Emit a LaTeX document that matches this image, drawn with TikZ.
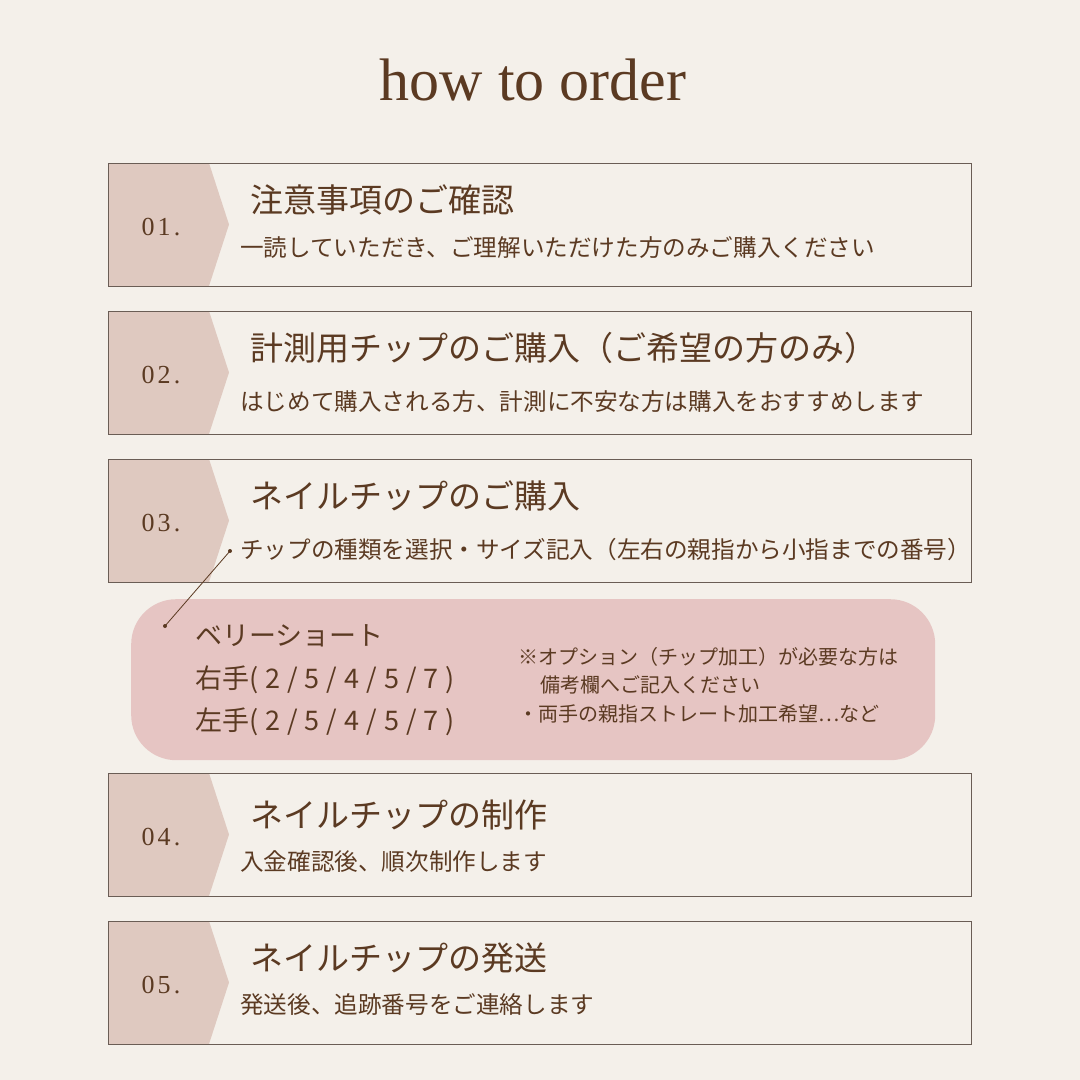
\documentclass[tikz,border=0pt]{standalone}
\usepackage{fontspec}
\setmainfont{Liberation Serif}
\newfontfamily\jp{Noto Sans CJK JP}
\newfontfamily\jpwide[LetterSpace=26]{Noto Sans CJK JP}
\newfontfamily\numfont[LetterSpace=12]{Liberation Serif}

\definecolor{bgcol}{HTML}{F4F0EA}
\definecolor{tabcol}{HTML}{DFC9C0}
\definecolor{notecol}{HTML}{E6C5C3}
\definecolor{inkcol}{HTML}{5B3A22}
\definecolor{framecol}{HTML}{6A5D55}

\begin{document}
\begin{tikzpicture}[x=1pt,y=-1pt,
    stepbox/.style={draw=framecol, line width=1pt, minimum width=863pt,
      minimum height=123pt, inner sep=0pt, anchor=north west},
    notebox/.style={fill=notecol, rounded corners=45pt, minimum width=804pt,
      minimum height=161pt, inner sep=0pt, anchor=north west},
    titletext/.style={text=inkcol, font=\fontsize{60}{60}\selectfont},
    numtext/.style={text=inkcol, inner sep=0pt, font=\numfont\fontsize{26}{26}\selectfont},
    headtext/.style={text=inkcol, inner sep=0pt, anchor=west, font=\jp\fontsize{33}{33}\selectfont},
    subtext/.style={text=inkcol, inner sep=0pt, anchor=west, font=\jp\fontsize{23.6}{23.6}\selectfont},
    sizetext/.style={text=inkcol, inner sep=0pt, anchor=west, font=\jp\fontsize{27}{27}\selectfont},
    memotext/.style={text=inkcol, inner sep=0pt, anchor=west, font=\jp\fontsize{20}{20}\selectfont},
    linkline/.style={draw=inkcol, line width=0.8pt}]

  % page
  \fill[bgcol] (0,0) rectangle (1080,1080);
  \useasboundingbox (0,0) rectangle (1080,1080);

  \node[titletext] (title) at (533,80) {how to order};

  % steps
  \foreach \idx/\y/\hy/\sy/\htxt/\stxt in {
      01/163/37/85/注意事項のご確認/一読していただき、ご理解いただけた方のみご購入ください,
      02/311/37/91/計測用チップのご購入（ご希望の方のみ）/はじめて購入される方、計測に不安な方は購入をおすすめします,
      03/459/37/91/ネイルチップのご購入/チップの種類を選択・サイズ記入（左右の親指から小指までの番号）,
      04/773/42/89/ネイルチップの制作/入金確認後、順次制作します,
      05/921/37/84/ネイルチップの発送/発送後、追跡番号をご連絡します}{
    \fill[tabcol] (108,\y) -- ++(101,0) -- ++(20,61.5) -- ++(-20,61.5) -- ++(-101,0) -- cycle;
    \node[stepbox] (box\idx) at (108,\y) {};
    \node[numtext] (num\idx) at (161,\y+64.5) {\idx.};
    \node[headtext] (head\idx) at (250,\y+\hy) {\htxt};
    \node[subtext] (sub\idx) at (240,\y+\sy) {\stxt};
  }

  % size example
  \node[notebox] (note) at (131,599) {};
  \node[sizetext] (size) at (195,636) {ベリーショート};
  \node[sizetext] (right) at (195,680) {右手{\jpwide(2/5/4/5/7)}};
  \node[sizetext] (left) at (195,722) {左手{\jpwide(2/5/4/5/7)}};
  \node[memotext] (memo1) at (518,657) {※オプション（チップ加工）が必要な方は};
  \node[memotext] (memo2) at (540,685) {備考欄へご記入ください};
  \node[memotext] (memo3) at (518,714) {・両手の親指ストレート加工希望…など};

  \coordinate (tipA) at (230,551);
  \coordinate (tipB) at (165,626);
  \draw[linkline] (tipA) -- (tipB);
  \fill[inkcol] (tipA) circle (2);
  \fill[inkcol] (tipB) circle (2);

\end{tikzpicture}
\end{document}
